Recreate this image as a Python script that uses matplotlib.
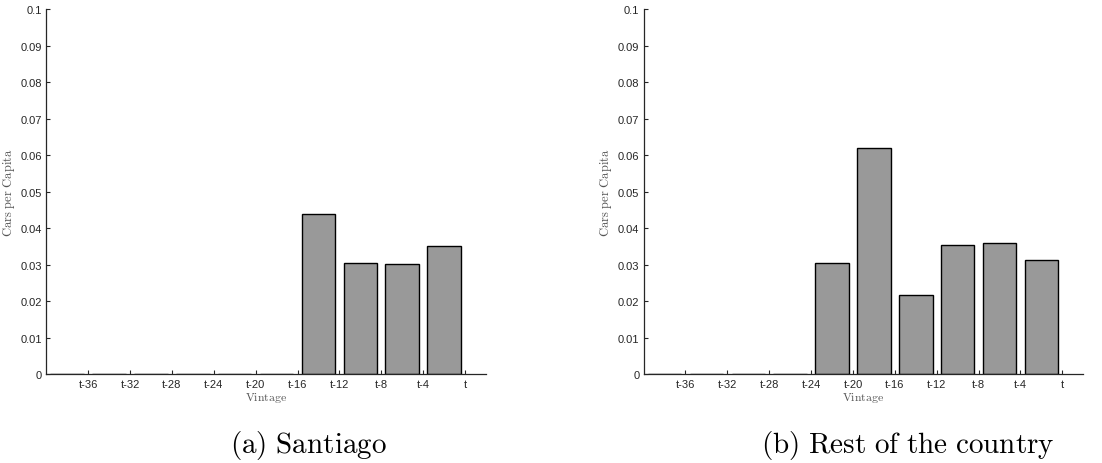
import matplotlib
matplotlib.use('Agg')
import matplotlib.pyplot as plt

plt.rcParams['mathtext.fontset'] = 'cm'
plt.rcParams['font.family'] = ['Liberation Sans', 'DejaVu Sans']

# vintage positions (t = 0), bars every 4 periods
vintage = [-38, -34, -30, -26, -22, -18, -14, -10, -6, -2]
tick_pos = [-36, -32, -28, -24, -20, -16, -12, -8, -4, 0]
tick_labels = ['t-36', 't-32', 't-28', 't-24', 't-20', 't-16', 't-12', 't-8', 't-4', 't']

santiago = [0, 0, 0, 0, 0, 0, 0.0440, 0.0305, 0.0301, 0.0351]
rest = [0, 0, 0, 0, 0.0305, 0.0620, 0.0217, 0.0355, 0.0361, 0.0314]

captions = ['(a)\\ Santiago', '(b)\\ Rest\\ of\\ the\\ country']

fig = plt.figure(figsize=(11.02, 4.64), dpi=100)
ax1 = fig.add_axes([0.042, 0.191, 0.399, 0.787])
ax2 = fig.add_axes([0.584, 0.191, 0.399, 0.787])

grey_txt = '#555555'
for ax, vals in [(ax1, santiago), (ax2, rest)]:
    ax.bar(vintage, vals, width=3.2, color='#999999', edgecolor='black', linewidth=1.0)
    ax.set_xlim(-40, 2)
    ax.set_ylim(0, 0.1)
    ax.set_xticks(tick_pos)
    ax.set_xticklabels(tick_labels)
    ax.set_yticks([i / 100 for i in range(11)])
    ax.set_yticklabels(['0'] + ['%.2f' % (i / 100) for i in range(1, 10)] + ['0.1'])
    for s in ['top', 'right']:
        ax.spines[s].set_visible(False)
    for s in ['left', 'bottom']:
        ax.spines[s].set_color('#262626')
        ax.spines[s].set_linewidth(0.9)
    ax.tick_params(direction='in', length=3, width=0.8, labelsize=8, colors='#262626',
                   pad=3)
    ax.set_xlabel(r'$\mathrm{Vintage}$', fontsize=8.5, color=grey_txt, labelpad=1)
    ax.set_ylabel(r'$\mathrm{Cars\ per\ Capita}$', fontsize=9, color=grey_txt)
    ax.yaxis.set_label_coords(-0.067, 0.5)

fig.text(0.2795, 0.04, r'$\mathrm{' + captions[0] + '}$', fontsize=21, ha='center', va='center')
fig.text(0.824, 0.04, r'$\mathrm{' + captions[1] + '}$', fontsize=21, ha='center', va='center')

plt.savefig('out.png', dpi=100)
